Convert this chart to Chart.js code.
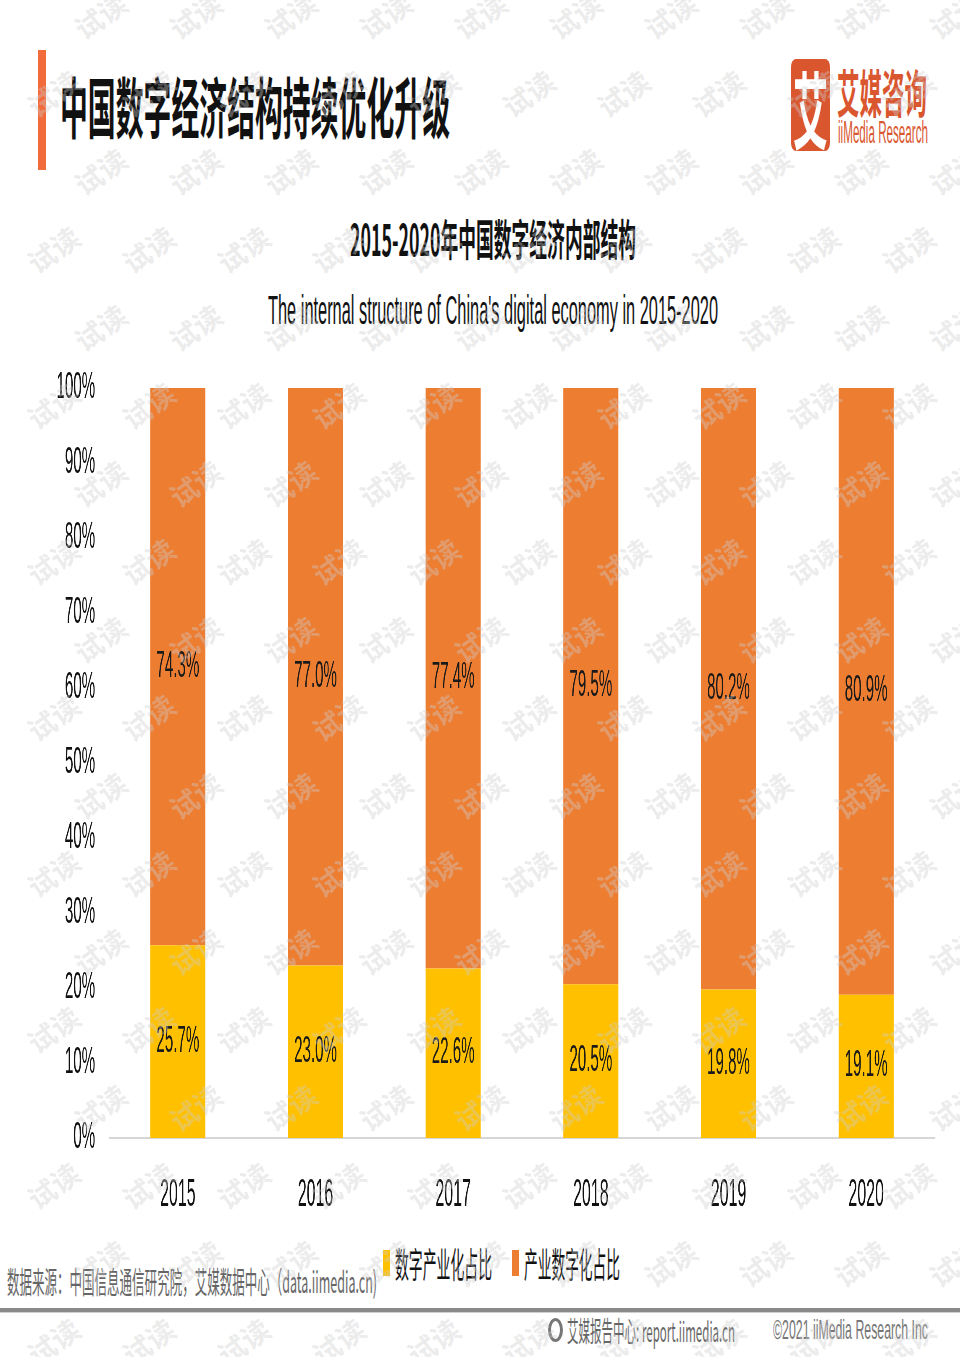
<!DOCTYPE html>
<html>
<head>
<meta charset="utf-8">
<script src="https://cdn.jsdelivr.net/npm/chart.js@4"></script>
<style>
body { margin: 0; width: 960px; height: 1357px; position: relative; overflow: hidden; background: #fff; font-family: "Noto Sans CJK SC", sans-serif; }
.t { position: absolute; white-space: nowrap; line-height: 1; transform-origin: 0 0; }
.wm { position: absolute; white-space: nowrap; line-height: 1; font: bold 28px "Noto Sans CJK SC"; color: rgba(205,205,205,0.38); transform: translate(-50%,-50%) rotate(-35deg); pointer-events: none; z-index: 10; }
#chart { position: absolute; left: 0; top: 360px; transform-origin: 0 0; }
</style>
</head>
<body>
<div style="position:absolute;left:38px;top:50px;width:8px;height:120px;background:#F26B3A"></div>
<div class="t" id="title" style="left:60px;top:71px;font-size:66px;font-weight:bold;color:#111">中国数字经济结构持续优化升级</div>

<div style="position:absolute;left:791px;top:59px;width:39px;height:92px;background:#D9562F;border-radius:5px/8px;overflow:hidden">
  <div class="t" id="logoChar" style="left:2px;top:6px;font-size:84px;font-weight:bold;color:#fff">艾</div>
</div>
<div class="t" id="logoName" style="left:837px;top:66px;font-size:51px;font-weight:bold;color:#D9562F">艾媒咨询</div>
<div class="t" id="logoEn" style="left:838px;top:117px;font-size:31px;font-family:'Liberation Sans';color:#D9562F">iiMedia Research</div>

<div class="t" id="sub1" style="left:350px;top:216px;font-size:43px;font-weight:bold;color:#111">2015-2020年中国数字经济内部结构</div>
<div class="t" id="sub2" style="left:268px;top:290px;font-size:40px;font-family:'Liberation Sans';color:#111">The internal structure of China's digital economy in 2015-2020</div>

<canvas id="chart" width="2286" height="870"></canvas>

<div id="legend"></div>
<div class="t" id="source" style="left:7px;top:1265px;font-size:30px;color:#666">数据来源：中国信息通信研究院，艾媒数据中心（data.iimedia.cn)</div>

<div style="position:absolute;left:0;top:1308px;width:960px;height:4px;background:#8a8a8a"></div>
<div style="position:absolute;left:0;top:1312px;width:960px;height:1px;background:#cfcfcf"></div>
<div style="position:absolute;left:548px;top:1318px;width:9px;height:18px;border:3px solid #777;border-radius:50%"></div>
<div class="t" id="foot1" style="left:567px;top:1316px;font-size:28px;color:#666">艾媒报告中心: report.iimedia.cn</div>
<div class="t" id="foot2" style="left:773px;top:1316px;font-size:28px;font-family:'Liberation Sans';color:#777">©2021  iiMedia Research  Inc</div>

<script>
const categories = ['2015', '2016', '2017', '2018', '2019', '2020'];
const digitalIndustrialization = [25.7, 23.0, 22.6, 20.5, 19.8, 19.1];
const industrialDigitalization = [74.3, 77.0, 77.4, 79.5, 80.2, 80.9];
const seriesNames = ['数字产业化占比', '产业数字化占比'];
const seriesColors = ['#FFC000', '#ED7D31'];
const yTickLabels = ['0%', '10%', '20%', '30%', '40%', '50%', '60%', '70%', '80%', '90%', '100%'];

// squeeze text horizontally to a target width (the source uses a very condensed face)
function fit(id, w) {
    const el = document.getElementById(id);
    const r = el.getBoundingClientRect().width;
    el.style.transform = 'scaleX(' + (w / r) + ')';
}

// the whole chart canvas is drawn wide, then squeezed like the text
const S = 0.42;
const CW = 2286, CH = 870;
const canvas = document.getElementById('chart');
canvas.style.width = CW + 'px';
canvas.style.height = CH + 'px';
canvas.style.transform = 'scaleX(' + S + ')';

const barLabels = {
    id: 'barLabels',
    afterDatasetsDraw(chart) {
        const ctx = chart.ctx;
        ctx.save();
        ctx.font = '36px "Liberation Sans"';
        ctx.fillStyle = '#1a1a1a';
        ctx.textAlign = 'center';
        ctx.textBaseline = 'middle';
        chart.data.datasets.forEach((ds, i) => {
            chart.getDatasetMeta(i).data.forEach((bar, j) => {
                ctx.fillText(ds.data[j].toFixed(1) + '%', bar.x, (bar.y + bar.base) / 2);
            });
        });
        ctx.restore();
    }
};

Chart.defaults.font.family = '"Liberation Sans", sans-serif';

new Chart(canvas.getContext('2d'), {
    type: 'bar',
    data: {
        labels: categories,
        datasets: [{
            label: seriesNames[0],
            data: digitalIndustrialization,
            backgroundColor: seriesColors[0]
        }, {
            label: seriesNames[1],
            data: industrialDigitalization,
            backgroundColor: seriesColors[1]
        }]
    },
    options: {
        responsive: false,
        animation: false,
        devicePixelRatio: 1,
        categoryPercentage: 1,
        barPercentage: 0.4,
        layout: { padding: { left: 0, right: CW - 935 / S, top: 28, bottom: 0 } },
        plugins: { legend: { display: false }, tooltip: { enabled: false } },
        scales: {
            x: {
                stacked: true,
                grid: { display: false, drawTicks: false },
                border: { display: true, color: '#d6d6d6', width: 2 },
                ticks: { font: { size: 38 }, color: '#111', padding: 35 },
                afterFit(scale) { scale.height = CH - 778; }
            },
            y: {
                stacked: true,
                min: 0,
                max: 100,
                grid: { display: false, drawTicks: false },
                border: { display: false },
                ticks: {
                    stepSize: 10,
                    font: { size: 36 },
                    color: '#111',
                    padding: 33,
                    callback: (v) => yTickLabels[Math.round(v / 10)]
                },
                afterFit(scale) {
                    scale.width = 109 / S;
                    scale.paddingTop = 0;
                    scale.paddingBottom = 0;
                }
            }
        }
    },
    plugins: [barLabels]
});

// legend
const legend = document.getElementById('legend');
const legendX = [383, 512];
seriesNames.forEach((name, i) => {
    const box = document.createElement('div');
    box.style.cssText = 'position:absolute;top:1250px;left:' + legendX[i] + 'px;width:7px;height:26px;background:' + seriesColors[i];
    legend.appendChild(box);
    const txt = document.createElement('div');
    txt.className = 't';
    txt.id = 'leg' + i;
    txt.style.cssText = 'left:' + (legendX[i] + 12) + 'px;top:1245px;font-size:35px;color:#111';
    txt.textContent = name;
    legend.appendChild(txt);
});

fit('title', 390);
fit('logoChar', 35);
fit('logoName', 90);
fit('logoEn', 90);
fit('sub1', 286);
fit('sub2', 450);
fit('leg0', 97);
fit('leg1', 96);
fit('source', 370);
fit('foot1', 168);
fit('foot2', 155);

// "试读" watermark grid
for (let k = 0; k < 18; k++) {
    const y = 15 + 78 * k;
    const x0 = k % 2 === 0 ? 100 : 53;
    for (let x = x0; x < 1000; x += 95) {
        const w = document.createElement('div');
        w.className = 'wm';
        w.style.left = x + 'px';
        w.style.top = y + 'px';
        w.textContent = '试读';
        document.body.appendChild(w);
    }
}
</script>
</body>
</html>
